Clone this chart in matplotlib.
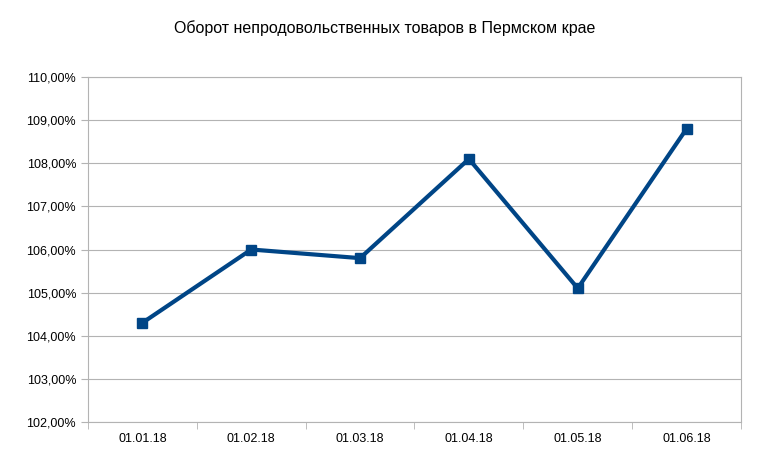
import matplotlib
matplotlib.use("Agg")
import matplotlib.pyplot as plt
import numpy as np
from matplotlib.ticker import FuncFormatter

dates = ["01.01.18", "01.02.18", "01.03.18", "01.04.18", "01.05.18", "01.06.18"]
turnover = [104.3, 106.0, 105.8, 108.1, 105.1, 108.8]
y_ticks = np.arange(102, 111, 1)

plt.rcParams["font.family"] = ["Liberation Sans", "DejaVu Sans"]

fig = plt.figure(figsize=(7.69, 4.69), dpi=100)
ax = fig.add_axes([0.1144, 0.1002, 0.8492, 0.7356])

x = np.arange(len(dates))
ax.plot(x, turnover, color="#004586", linewidth=3, marker="s", markersize=7, zorder=3)

ax.set_xlim(-0.5, len(dates) - 0.5)
ax.set_ylim(102, 110)
ax.set_yticks(y_ticks)
ax.yaxis.set_major_formatter(FuncFormatter(lambda v, p: f"{v:.2f}%".replace(".", ",")))
ax.grid(axis="y", color="#b3b3b3", linewidth=0.8)
ax.set_axisbelow(True)

# category labels centred, tick marks on the band boundaries
ax.set_xticks(x)
ax.set_xticklabels(dates)
ax.tick_params(axis="x", length=0, pad=8)
ax.set_xticks(np.arange(-0.5, len(dates)), minor=True)
ax.tick_params(axis="x", which="minor", length=5, color="#b3b3b3")
ax.tick_params(axis="y", length=5, color="#b3b3b3", labelsize=9)
ax.tick_params(axis="x", labelsize=9)

for s in ax.spines.values():
    s.set_color("#b3b3b3")

fig.text(0.5, 0.94, "Оборот непродовольственных товаров в Пермском крае",
         ha="center", va="center", fontsize=11.5)

fig.savefig("out.png", dpi=100)
